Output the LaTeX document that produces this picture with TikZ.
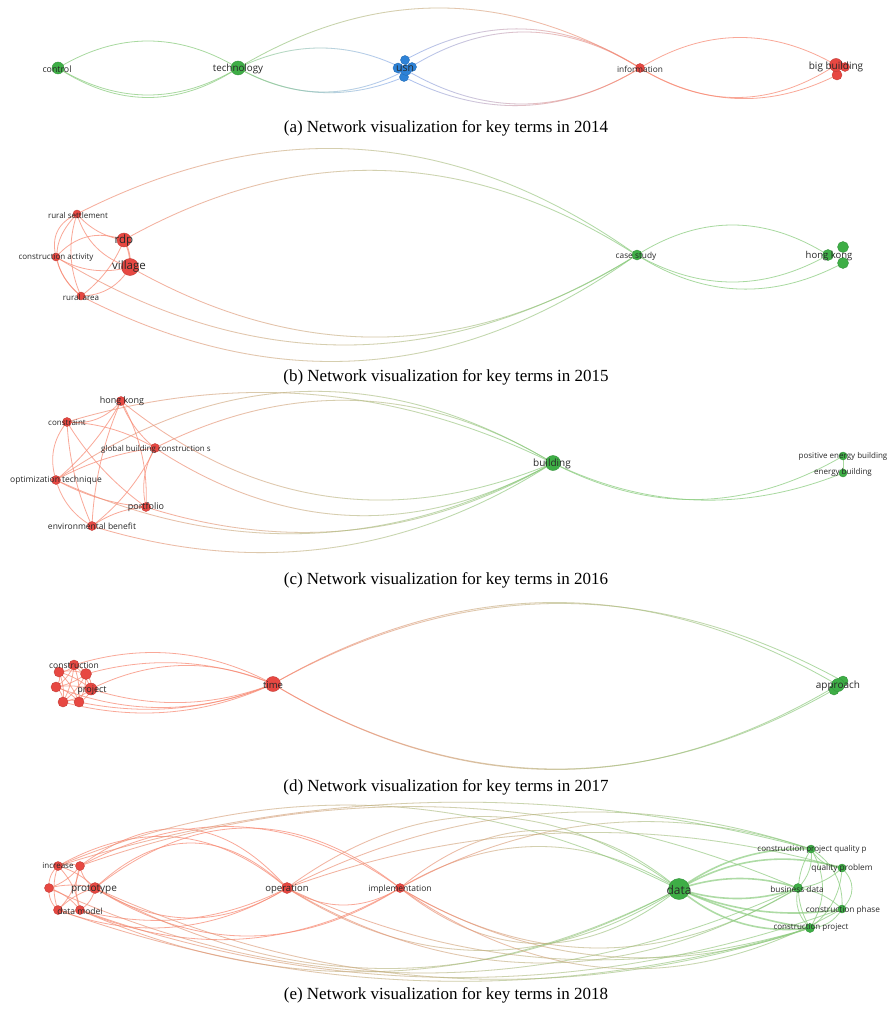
\documentclass[tikz,border=0pt]{standalone}
\usepackage{fontspec}
\newfontfamily\lblfont{Open Sans}
\newfontfamily\capfont{Liberation Serif}
\usetikzlibrary{calc,fadings}

\definecolor{nred}{RGB}{231,72,66}
\definecolor{ngreen}{RGB}{62,174,70}
\definecolor{nblue}{RGB}{45,130,215}
\definecolor{ered}{RGB}{248,140,118}
\definecolor{egreen}{RGB}{140,205,128}
\definecolor{eblue}{RGB}{140,172,236}
\definecolor{labelgray}{RGB}{40,40,40}

\tikzfading[name=fadeR, left color=transparent!0, right color=transparent!100]
\tikzfading[name=fadeL, left color=transparent!100, right color=transparent!0]

\pgfdeclarelayer{bg}
\pgfdeclarelayer{edges}
\pgfsetlayers{bg,edges,main}

\tikzset{
  edge/.style={line width=0.8pt, draw opacity=0.75},
  fat/.style={line width=1.6pt, draw opacity=0.7},
  vn/.style={circle, inner sep=0pt, minimum size=#1, line width=0.4pt},
  rn/.style={vn=#1, fill=nred, draw=nred!85!black},
  gn/.style={vn=#1, fill=ngreen, draw=ngreen!85!black},
  bn/.style={vn=#1, fill=nblue, draw=nblue!85!black},
  captext/.style={font=\capfont\fontsize{17}{19}\selectfont, inner sep=0pt},
}

% control offset for a curved link of peak height #1 (positive = left of travel)
\newcommand\setarc[1]{\pgfmathsetmacro\hh{abs(#1)*4/3}\pgfmathsetmacro\ang{(#1<0)?-90:90}}
% single-colour link
\newcommand\lnk[4][]{\setarc{#4}%
  \draw[edge,#1] (#2.center) .. controls ($(#2)!0.333!(#3)!\hh pt!\ang:(#3)$) and ($(#2)!0.667!(#3)!\hh pt!\ang:(#3)$) .. (#3.center);}
% link blending from the colour of the left node to the colour of the right node
\newcommand\glnk[5]{\setarc{#3}%
  \draw[edge,draw=#4,path fading=fadeR] (#1.center) .. controls ($(#1)!0.333!(#2)!\hh pt!\ang:(#2)$) and ($(#1)!0.667!(#2)!\hh pt!\ang:(#2)$) .. (#2.center);%
  \draw[edge,draw=#5,path fading=fadeL] (#1.center) .. controls ($(#1)!0.333!(#2)!\hh pt!\ang:(#2)$) and ($(#1)!0.667!(#2)!\hh pt!\ang:(#2)$) .. (#2.center);}
% term label
\newcommand\lbl[4]{\node[font=\lblfont\fontsize{#3}{#3}\selectfont, text=labelgray, inner sep=0pt] (#1) at #2 {#4};}

\begin{document}
\begin{tikzpicture}[x=1pt,y=-1pt]
\useasboundingbox (0,0) rectangle (892,1014);
\begin{pgfonlayer}{bg}
\fill[white] (0,0) rectangle (892,1014);
\end{pgfonlayer}

% ---------------- 2014 ----------------
\node[gn=12pt] (actl) at (58,68) {};
\node[gn=14pt] (atech) at (238,68) {};
\node[bn=9pt] (au1) at (405,60) {};
\node[bn=10pt] (au2) at (398,68) {};
\node[bn=9pt] (au3) at (412,67) {};
\node[bn=9pt] (au4) at (404,77) {};
\node[bn=11pt] (ausn) at (406,70) {};
\node[rn=9pt] (ainfo) at (640,68) {};
\node[rn=9pt] (abb2) at (845,67) {};
\node[rn=10pt] (abb3) at (837,75) {};
\node[rn=13pt] (abb) at (836,65) {};

% ---------------- 2015 ----------------
\node[rn=8pt] (brs) at (77,214) {};
\node[rn=8pt] (bca) at (56,257) {};
\node[rn=8pt] (bra) at (81,296) {};
\node[rn=14pt] (brdp) at (124,240) {};
\node[rn=17pt] (bvil) at (130,267) {};
\node[gn=10pt] (bcs) at (637,255) {};
\node[gn=11pt] (bhk2) at (843,247) {};
\node[gn=11pt] (bhk3) at (843,263) {};
\node[gn=11pt] (bhk) at (828,255) {};

% ---------------- 2016 ----------------
\node[rn=9pt] (chk) at (121,401) {};
\node[rn=9pt] (ccon) at (67,422) {};
\node[rn=9pt] (cgb) at (155,448) {};
\node[rn=9pt] (copt) at (56,480) {};
\node[rn=9pt] (cpf) at (146,507) {};
\node[rn=9pt] (cenv) at (92,526) {};
\node[gn=15pt] (cbld) at (553,463) {};
\node[gn=8pt] (cpeb) at (843,456) {};
\node[gn=8pt] (ceb) at (843,473) {};

% ---------------- 2017 ----------------
\node[rn=10pt] (dcon) at (74,665) {};
\node[rn=10pt] (dn1) at (59,672) {};
\node[rn=11pt] (dn2) at (86,674) {};
\node[rn=10pt] (dn3) at (56,687) {};
\node[rn=12pt] (dprj) at (91,689) {};
\node[rn=10pt] (dn4) at (63,702) {};
\node[rn=10pt] (dn5) at (79,702) {};
\node[rn=15pt] (dtime) at (273,684) {};
\node[gn=10pt] (da2) at (843,681) {};
\node[gn=10pt] (da3) at (834,690) {};
\node[gn=13pt] (dapp) at (838,685) {};

% ---------------- 2018 ----------------
\node[rn=9pt] (einc) at (58,866) {};
\node[rn=9pt] (er2) at (80,866) {};
\node[rn=9pt] (elft) at (49,888) {};
\node[rn=11pt] (epro) at (95,888) {};
\node[rn=9pt] (edm1) at (58,910) {};
\node[rn=9pt] (edm) at (80,910) {};
\node[rn=11pt] (eop) at (287,888) {};
\node[rn=9pt] (eimp) at (400,888) {};
\node[gn=21pt] (edata) at (679,889) {};
\node[gn=8pt] (ecpq) at (811,849) {};
\node[gn=8pt] (eqp) at (842,868) {};
\node[gn=9pt] (ebd) at (798,888) {};
\node[gn=8pt] (ecph) at (842,909) {};
\node[gn=9pt] (ecp) at (810,928) {};

\begin{pgfonlayer}{edges}
% 2014
\lnk[egreen]{actl}{atech}{27}
\lnk[egreen]{actl}{atech}{-27}
\lnk[egreen]{actl}{atech}{-29.5}
\glnk{atech}{ausn}{21}{egreen}{eblue}
\glnk{atech}{au4}{-20}{egreen}{eblue}
\glnk{atech}{ausn}{-23}{egreen}{eblue}
\glnk{atech}{ainfo}{60}{egreen}{ered}
\glnk{au1}{ainfo}{35}{eblue}{ered}
\glnk{ausn}{ainfo}{37}{eblue}{ered}
\glnk{au4}{ainfo}{-33}{eblue}{ered}
\glnk{ausn}{ainfo}{-35}{eblue}{ered}
\lnk[ered]{ainfo}{abb}{29}
\lnk[ered]{ainfo}{abb3}{-27}
\lnk[ered]{ainfo}{abb}{-31}

% 2015
\lnk[ered]{brs}{brdp}{-5}
\lnk[ered]{brs}{bvil}{-10}
\lnk[ered]{brs}{bca}{-10}
\lnk[ered]{brs}{bra}{-22}
\lnk[ered]{brs}{bra}{-8}
\lnk[ered]{bca}{brdp}{12}
\lnk[ered]{bca}{bvil}{-8}
\lnk[ered]{bca}{bra}{-4}
\lnk[ered]{bra}{bvil}{-8}
\lnk[ered]{bra}{brdp}{-5}
\lnk[ered,line width=1.6pt]{brdp}{bvil}{2}
\glnk{brs}{bcs}{85}{ered}{egreen}
\glnk{brdp}{bcs}{77}{ered}{egreen}
\glnk{bvil}{bcs}{-76}{ered}{egreen}
\glnk{bca}{bcs}{-89}{ered}{egreen}
\glnk{bra}{bcs}{-85}{ered}{egreen}
\lnk[egreen]{bcs}{bhk}{30}
\lnk[egreen]{bcs}{bhk}{-27}
\lnk[egreen]{bcs}{bhk3}{-30}

% 2016
\lnk[ered]{chk}{ccon}{8}
\lnk[ered]{chk}{cgb}{-4}
\lnk[ered]{chk}{copt}{5}
\lnk[ered]{chk}{cpf}{8}
\lnk[ered]{chk}{cenv}{-6}
\lnk[ered]{ccon}{cgb}{6}
\lnk[ered]{ccon}{copt}{-8}
\lnk[ered]{ccon}{cpf}{-6}
\lnk[ered]{ccon}{cenv}{-5}
\lnk[ered]{cgb}{copt}{-5}
\lnk[ered]{cgb}{cpf}{-6}
\lnk[ered]{cgb}{cenv}{6}
\lnk[ered]{copt}{cpf}{-5}
\lnk[ered]{copt}{cenv}{-6}
\lnk[ered]{cpf}{cenv}{-4}
\glnk{copt}{cbld}{80}{ered}{egreen}
\glnk{cgb}{cbld}{55}{ered}{egreen}
\glnk{ccon}{cbld}{48}{ered}{egreen}
\glnk{chk}{cbld}{-65}{ered}{egreen}
\glnk{cgb}{cbld}{-60}{ered}{egreen}
\glnk{cpf}{cbld}{-45}{ered}{egreen}
\glnk{cenv}{cbld}{-54}{ered}{egreen}
\glnk{copt}{cbld}{-62}{ered}{egreen}
\lnk[egreen]{cbld}{cpeb}{-40}
\lnk[egreen]{cbld}{ceb}{-32}
\lnk[egreen]{cpeb}{ceb}{0}

% 2017
\foreach \p/\q in {dcon/dn1,dcon/dn2,dcon/dn3,dcon/dprj,dcon/dn4,dcon/dn5,
                   dn1/dn2,dn1/dn3,dn1/dprj,dn1/dn4,dn1/dn5,
                   dn2/dn3,dn2/dprj,dn2/dn4,dn2/dn5,
                   dn3/dprj,dn3/dn4,dn3/dn5,
                   dprj/dn4,dprj/dn5,dn4/dn5}{\lnk[ered]{\p}{\q}{2}}
\lnk[ered]{dcon}{dtime}{21}
\lnk[ered]{dn2}{dtime}{16}
\lnk[ered]{dprj}{dtime}{21}
\lnk[ered]{dprj}{dtime}{-16}
\lnk[ered]{dn5}{dtime}{-15}
\lnk[ered]{dn4}{dtime}{-19}
\lnk[ered]{dn3}{dtime}{-22}
\glnk{dtime}{dapp}{82}{ered}{egreen}
\glnk{dtime}{da2}{79}{ered}{egreen}
\glnk{dtime}{dapp}{-85}{ered}{egreen}
\glnk{dtime}{da3}{-82}{ered}{egreen}

% 2018
\foreach \p/\q/\h in {einc/er2/2,einc/elft/-3,einc/epro/3,einc/edm1/-4,einc/edm/4,
                      er2/elft/3,er2/epro/-3,er2/edm1/4,er2/edm/-4,
                      elft/epro/3,elft/edm1/-3,elft/edm/3,
                      epro/edm1/-3,epro/edm/3,edm1/edm/-2}{\lnk[ered]{\p}{\q}{\h}}
\lnk[ered]{einc}{eop}{40}
\lnk[ered]{er2}{eop}{48}
\lnk[ered]{epro}{eop}{45}
\lnk[ered]{epro}{eop}{-30}
\lnk[ered]{edm}{eop}{-20}
\lnk[ered]{edm1}{eop}{-28}
\lnk[ered]{er2}{eimp}{50}
\lnk[ered]{epro}{eimp}{60}
\lnk[ered]{edm}{eimp}{-40}
\lnk[ered]{epro}{eimp}{-48}
\lnk[ered]{eop}{eimp}{-17}
\glnk{eop}{edata}{72}{ered}{egreen}
\glnk{eop}{edata}{-62}{ered}{egreen}
\glnk{eimp}{edata}{58}{ered}{egreen}
\glnk{eimp}{edata}{42}{ered}{egreen}
\glnk{eimp}{edata}{-55}{ered}{egreen}
\glnk{einc}{edata}{72}{ered}{egreen}
\glnk{epro}{edata}{-80}{ered}{egreen}
\glnk{edm}{edata}{-72}{ered}{egreen}
\glnk{einc}{ecpq}{55}{ered}{egreen}
\glnk{er2}{ebd}{70}{ered}{egreen}
\glnk{epro}{ecp}{-70}{ered}{egreen}
\glnk{edm}{ecph}{-68}{ered}{egreen}
\glnk{edm1}{ecp}{-62}{ered}{egreen}
\glnk{elft}{ebd}{-85}{ered}{egreen}
\glnk{eop}{ecpq}{55}{ered}{egreen}
\glnk{eop}{eqp}{45}{ered}{egreen}
\glnk{eop}{ebd}{-75}{ered}{egreen}
\glnk{eop}{ecp}{-50}{ered}{egreen}
\glnk{eimp}{ecpq}{45}{ered}{egreen}
\glnk{eimp}{ebd}{-60}{ered}{egreen}
\glnk{eimp}{ecph}{-70}{ered}{egreen}
\glnk{eimp}{ecp}{-48}{ered}{egreen}
\lnk[egreen]{ecpq}{eqp}{-5}
\lnk[egreen]{ecpq}{ebd}{5}
\lnk[egreen]{ecpq}{ecph}{10}
\lnk[egreen]{ecpq}{ecp}{12}
\lnk[egreen]{ecpq}{ecp}{-12}
\lnk[egreen]{eqp}{ebd}{4}
\lnk[egreen]{eqp}{ecph}{10}
\lnk[egreen]{eqp}{ecp}{8}
\lnk[egreen]{ebd}{ecph}{4}
\lnk[egreen]{ebd}{ecp}{-6}
\lnk[egreen]{ecph}{ecp}{5}
\lnk[egreen,fat]{edata}{ecpq}{12}
\lnk[egreen,fat]{edata}{eqp}{18}
\lnk[egreen,fat]{edata}{ebd}{10}
\lnk[egreen,fat]{edata}{ebd}{-10}
\lnk[egreen,fat]{edata}{ecph}{-12}
\lnk[egreen,fat]{edata}{ecp}{-15}
\lnk[egreen,fat]{edata}{ecp}{-5}
\end{pgfonlayer}

% ---------------- labels ----------------
\lbl{lactl}{(57,69)}{8.8}{control}
\lbl{latech}{(238,69)}{9.8}{technology}
\lbl{lausn}{(405,69)}{10.5}{usn}
\lbl{lainfo}{(640,69)}{8.3}{information}
\lbl{labb}{(836,67)}{10}{big building}

\lbl{lbrs}{(78,215)}{8}{rural settlement}
\lbl{lbrdp}{(124,241)}{11.5}{rdp}
\lbl{lbvil}{(129,267)}{11.5}{village}
\lbl{lbca}{(56,258)}{8}{construction activity}
\lbl{lbra}{(81,297)}{8}{rural area}
\lbl{lbcs}{(636,256)}{8.3}{case study}
\lbl{lbhk}{(829,256)}{9.5}{hong kong}

\lbl{lchk}{(122,401)}{9}{hong kong}
\lbl{lccon}{(67,423)}{8}{constraint}
\lbl{lcgb}{(156,449)}{8}{global building construction s}
\lbl{lcopt}{(56,480)}{8.5}{optimization technique}
\lbl{lcpf}{(146,507)}{9}{portfolio}
\lbl{lcenv}{(92,526)}{8.5}{environmental benefit}
\lbl{lcbld}{(552,464)}{10}{building}
\lbl{lcpeb}{(843,456)}{8}{positive energy building}
\lbl{lceb}{(843,472)}{8}{energy building}

\lbl{ldcon}{(74,665)}{8.5}{construction}
\lbl{ldprj}{(92,690)}{9}{project}
\lbl{ldtime}{(273,685)}{9.5}{time}
\lbl{ldapp}{(838,686)}{10}{approach}

\lbl{leinc}{(58,866)}{8}{increase}
\lbl{lepro}{(94,889)}{10}{prototype}
\lbl{ledm}{(80,911)}{8.5}{data model}
\lbl{leop}{(287,889)}{9.5}{operation}
\lbl{leimp}{(400,889)}{8.5}{implementation}
\lbl{ledata}{(679,890)}{12}{data}
\lbl{lecpq}{(812,849)}{8}{construction project quality p}
\lbl{leqp}{(842,868)}{8.3}{quality problem}
\lbl{lebd}{(797,889)}{8.3}{business data}
\lbl{lecph}{(843,910)}{8.3}{construction phase}
\lbl{lecp}{(811,928)}{8}{construction project}

% ---------------- captions ----------------
\node[captext] (capa) at (446,128) {(a) Network visualization for key terms in 2014};
\node[captext] (capb) at (446,377) {(b) Network visualization for key terms in 2015};
\node[captext] (capc) at (446,580) {(c) Network visualization for key terms in 2016};
\node[captext] (capd) at (446,787) {(d) Network visualization for key terms in 2017};
\node[captext] (cape) at (446,995) {(e) Network visualization for key terms in 2018};
\end{tikzpicture}
\end{document}
